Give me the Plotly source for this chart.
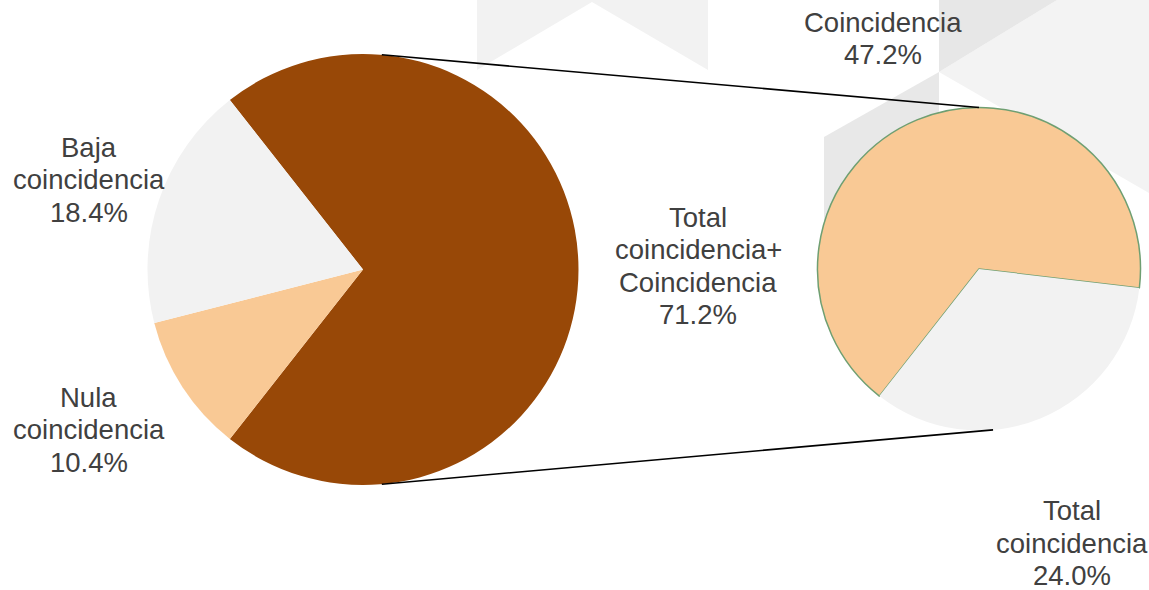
import math
import plotly.graph_objects as go

W, H = 1149, 590          # browser window = figure size (body margin removed below)

# ---------------- data ----------------
main_labels = ["Total coincidencia+ Coincidencia", "Nula coincidencia", "Baja coincidencia"]
main_values = [71.2, 10.4, 18.4]
main_lines = [["Total", "coincidencia+", "Coincidencia"], ["Nula", "coincidencia"], ["Baja", "coincidencia"]]

sub_labels = ["Coincidencia", "Total coincidencia"]
sub_values = [47.2, 24.0]
sub_lines = [["Coincidencia"], ["Total", "coincidencia"]]

# ---------------- style / layout ----------------
main_colors = ["#984807", "#f9c995", "#f2f2f2"]
sub_colors = ["#f9c995", "#f2f2f2"]
sub_line_colors = ["#6f9f72", "rgba(0,0,0,0)"]
sub_line_widths = [1.5, 0]
TEXT_COLOR = "#404040"
FONT = "Liberation Sans, Arial, sans-serif"
FS = 27.5
LINE_STEP = 32.5

# geometry in window pixels
BIG_C, BIG_R = (363.0, 269.5), 215.5
SMALL_C, SMALL_R = (979.0, 269.0), 161.5

# label anchors (center x, first baseline y) in window pixels
main_label_pos = [(698, 226.7), (89, 406.7), (89, 156.7)]
sub_label_pos = [(883, 31.7), (1072, 520.2)]


def px(x):
    return x / W


def py(y):
    return 1 - y / H


def domain(c, r):
    return dict(x=[px(c[0] - r), px(c[0] + r)], y=[py(c[1] + r), py(c[1] - r)])


# rotation so the main slice is centred on 3 o'clock
main_share = main_values[0] / sum(main_values)
main_rotation = 90 - main_share * 360 / 2

fig = go.Figure()
fig.add_trace(go.Pie(
    labels=main_labels, values=main_values, sort=False, direction="clockwise",
    rotation=main_rotation, domain=domain(BIG_C, BIG_R),
    marker=dict(colors=main_colors, line=dict(width=0)),
    textinfo="none", textposition="none", hoverinfo="label+percent", showlegend=False,
))
fig.add_trace(go.Pie(
    labels=sub_labels, values=sub_values, sort=False, direction="clockwise",
    rotation=-141.9, domain=domain(SMALL_C, SMALL_R),
    marker=dict(colors=sub_colors, line=dict(color=sub_line_colors, width=sub_line_widths)),
    textinfo="none", textposition="none", hoverinfo="label+value", showlegend=False,
))

# ---------------- background watermark ----------------
def path(points):
    return "M " + " L ".join(f"{px(x):.5f},{py(y):.5f}" for x, y in points) + " Z"

shapes = []
bg_polys = [
    ([(477, 0), (708, 0), (708, 70), (592, 2), (477, 70)], "#f2f2f2"),
    ([(939, 72), (1057, 0), (1149, 0), (1149, 193)], "#f3f3f3"),
    ([(939, 0), (1057, 0), (939, 72)], "#e7e7e7"),
    ([(824, 137), (939, 72), (939, 335), (824, 270)], "#e8e8e8"),
]
for pts, col in bg_polys:
    shapes.append(dict(type="path", xref="paper", yref="paper", path=path(pts),
                       fillcolor=col, line=dict(width=0), layer="below"))

# connector lines between the two pies
ang = math.radians(85)
for sgn in (1, -1):
    x0 = BIG_C[0] + BIG_R * math.cos(ang)
    y0 = BIG_C[1] - sgn * BIG_R * math.sin(ang)
    if sgn == 1:
        x1, y1 = SMALL_C[0], SMALL_C[1] - SMALL_R
    else:
        x1 = SMALL_C[0] + SMALL_R * math.cos(ang)
        y1 = SMALL_C[1] + SMALL_R * math.sin(ang)
    shapes.append(dict(type="line", xref="paper", yref="paper",
                       x0=px(x0), y0=py(y0), x1=px(x1), y1=py(y1),
                       line=dict(color="black", width=1.6), layer="above"))

# ---------------- labels ----------------
annotations = []

def add_label(lines, value, pos):
    all_lines = lines + [f"{value:.1f}%"]
    cx, b0 = pos
    for i, t in enumerate(all_lines):
        base = b0 + i * LINE_STEP
        annotations.append(dict(
            text=t, x=px(cx), y=py(base - 0.3465 * FS), xref="paper", yref="paper",
            xanchor="center", yanchor="middle", showarrow=False, borderpad=0,
            font=dict(family=FONT, size=FS, color=TEXT_COLOR),
        ))

for lines, v, pos in zip(main_lines, main_values, main_label_pos):
    add_label(lines, v, pos)
for lines, v, pos in zip(sub_lines, sub_values, sub_label_pos):
    add_label(lines, v, pos)

fig.update_layout(
    width=W, height=H, margin=dict(l=0, r=0, t=0, b=0),
    paper_bgcolor="white", plot_bgcolor="white",
    shapes=shapes, annotations=annotations, showlegend=False,
)

fig.write_html(
    "out.html",
    config={"displayModeBar": False},
    post_script="document.body.style.margin='0';document.body.style.overflow='hidden';",
)
